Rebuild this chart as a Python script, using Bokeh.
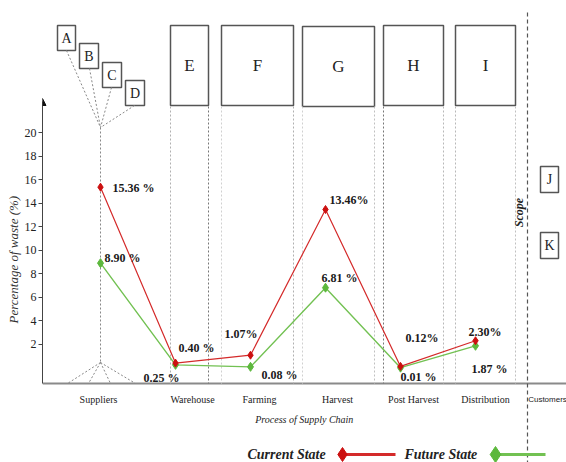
import math
from bokeh.plotting import figure
from bokeh.models import ColumnDataSource, FixedTicker, LinearAxis, Range1d, Arrow, NormalHead, Title
from bokeh.core.properties import value
from bokeh.embed import file_html
from bokeh.resources import INLINE

# ---------------- data ----------------
categories = ["Suppliers", "Warehouse", "Farming", "Harvest", "Post Harvest", "Distribution", "Customers"]
current_state = [15.36, 0.40, 1.07, 13.46, 0.12, 2.30]
future_state = [8.90, 0.25, 0.08, 6.81, 0.01, 1.87]
current_labels = ["15.36 %", "0.40 %", "1.07%", "13.46%", "0.12%", "2.30%"]
future_labels = ["8.90 %", "0.25 %", "0.08 %", "6.81 %", "0.01 %", "1.87 %"]
y_ticks = [2, 4, 6, 8, 10, 12, 14, 16, 18, 20]
stage_letters = ["A", "B", "C", "D", "E", "F", "G", "H", "I", "J", "K"]

# ---------------- layout helpers (canvas pixels -> data units) ----------------
W, H, LEFT = 566, 462, 42
X0, XS = 100.0, 75.0      # canvas x of category 0, pixels per category
Y0, YS = 367.3, 11.76     # canvas y of value 0, pixels per unit


def dx(px):
    return (px - X0) / XS


def dy(py):
    return (Y0 - py) / YS


SERIF = value("Liberation Serif")
RED = "#d42a2a"
RED_M = "#cc1010"
GREEN = "#72c152"
GREEN_M = "#5cb83c"

p = figure(width=W, height=H, output_backend="svg", toolbar_location=None,
           x_range=Range1d(dx(LEFT), dx(W)), y_range=Range1d(dy(H), dy(0)),
           x_axis_type=None, y_axis_type=None,
           min_border_left=LEFT, min_border_right=0, min_border_top=0, min_border_bottom=0)
p.outline_line_color = None
p.background_fill_color = "white"

# ---------------- y axis ----------------
baseline_v = dy(383)
yaxis = LinearAxis(ticker=FixedTicker(ticks=y_ticks), bounds=(baseline_v, dy(101)))
yaxis.axis_line_color = "#444444"
yaxis.axis_line_width = 1
yaxis.major_tick_out = 4
yaxis.major_tick_in = 0
yaxis.major_tick_line_color = "#444444"
yaxis.minor_tick_line_color = None
yaxis.major_label_text_font = "Liberation Serif"
yaxis.major_label_text_font_size = "12px"
yaxis.major_label_text_color = "#222222"
yaxis.major_label_standoff = 2
p.add_layout(yaxis, "left")

ytitle = Title(text="Percentage of waste (%)", align="left", offset=139, standoff=2,
               text_font="Liberation Serif", text_font_style="italic", text_font_size="13px",
               text_color="#333333")
p.add_layout(ytitle, "left")

p.add_layout(Arrow(end=NormalHead(size=7, fill_color="#111111", line_color="#111111"),
                   x_start=dx(42), y_start=dy(106), x_end=dx(42), y_end=dy(98),
                   line_color="#444444", line_width=1))

# baseline (x axis line)
p.segment(x0=[dx(42)], y0=[baseline_v], x1=[dx(566)], y1=[baseline_v],
          line_color="#8a8a8a", line_width=2)

# ---------------- boxes ----------------
boxes = [(57, 75, 25, 50), (79, 98, 43, 68), (102, 121, 62, 87), (125, 144, 80, 105),
         (170, 208, 25, 105), (221, 293, 25, 105), (302, 374, 26, 106), (383, 443, 25, 105),
         (455, 515, 25, 105), (540, 558, 166, 192), (540, 558, 232, 258)]
box_fs = ["14px"] * 4 + ["17px"] * 5 + ["14px"] * 2
p.quad(left=[dx(b[0]) for b in boxes], right=[dx(b[1]) for b in boxes],
       top=[dy(b[2]) for b in boxes], bottom=[dy(b[3]) for b in boxes],
       fill_color="white", line_color="#555555", line_width=1.5)
p.text(x=[dx((b[0] + b[1]) / 2) for b in boxes], y=[dy((b[2] + b[3]) / 2) for b in boxes],
       text=stage_letters, text_font=SERIF, text_font_size=box_fs, text_color="#222222",
       text_align="center", text_baseline="middle")

# dotted guides under boxes E..I
gx, gc = [], []
guide_cols = [("#b0b0b0", "#777777"), ("#d0d0d0", "#b0b0b0"), ("#d0d0d0", "#c0c0c0"),
              ("#777777", "#b8b8b8"), ("#b8b8b8", "#c0c0c0")]
for b, cols in zip(boxes[4:9], guide_cols):
    gx += [b[0], b[1]]
    gc += list(cols)
p.segment(x0=[dx(v) for v in gx], y0=[dy(106)] * len(gx), x1=[dx(v) for v in gx],
          y1=[baseline_v] * len(gx), line_color=gc, line_width=1, line_dash="2 2")

# supplier fan lines
top_apex = (100, 127)
bot_apex = (100, 362)
fan_top = [(66, 50), (89, 68), (111, 87), (134, 105)]
fan_bot = [(67, 383), (88, 383), (110, 383), (135, 383)]
sx0 = [dx(a[0]) for a in fan_top] + [dx(bot_apex[0])] * 4 + [dx(top_apex[0])]
sy0 = [dy(a[1]) for a in fan_top] + [dy(bot_apex[1])] * 4 + [dy(top_apex[1])]
sx1 = [dx(top_apex[0])] * 4 + [dx(a[0]) for a in fan_bot] + [dx(bot_apex[0])]
sy1 = [dy(top_apex[1])] * 4 + [dy(a[1]) for a in fan_bot] + [dy(bot_apex[1])]
p.segment(x0=sx0, y0=sy0, x1=sx1, y1=sy1, line_color="#888888", line_width=1, line_dash="2 2")

# scope line and text
p.segment(x0=[dx(527)], y0=[dy(12)], x1=[dx(527)], y1=[dy(462)],
          line_color="#555555", line_width=1.2, line_dash="4 3")
p.text(x=[dx(525)], y=[dy(212)], text=["Scope"], angle=math.pi / 2, text_font=SERIF,
       text_font_style="bold italic", text_font_size="12px", text_color="#222222",
       text_align="center", text_baseline="bottom")

# ---------------- series ----------------
idx = list(range(len(categories)))
cur = ColumnDataSource(dict(x=idx[:len(current_state)], y=current_state, t=current_labels,
                            xo=[12, 3, -26, 4, 5, -7], yo=[1, -15, -21, -10, -28, -9]))
fut = ColumnDataSource(dict(x=idx[:len(future_state)], y=future_state, t=future_labels,
                            xo=[4, -32, 11, -4, 0, -4], yo=[-5, 13, 8, -10, 9, 23]))

p.line("x", "y", source=fut, line_color=GREEN, line_width=1.4)
p.scatter("x", "y", source=fut, marker="diamond", size=9, fill_color=GREEN_M, line_color=GREEN_M)
p.line("x", "y", source=cur, line_color=RED, line_width=1.2)
p.scatter("x", "y", source=cur, marker="diamond", size=8, fill_color=RED_M, line_color=RED_M)

for src in (cur, fut):
    p.text("x", "y", text="t", source=src, x_offset="xo", y_offset="yo", text_font=SERIF,
           text_font_style="bold", text_font_size="12px", text_color="#1a1a1a",
           text_align="left", text_baseline="middle")

# category labels
cat_xo = [-2, 17, 9, 12, 13, 10, -3]
p.text("x", "y", text="t", source=ColumnDataSource(dict(x=idx[:6], y=[baseline_v] * 6,
                                                          t=categories[:6], xo=cat_xo[:6])),
       x_offset="xo", y_offset=16, text_font=SERIF, text_font_size="10px", text_color="#222222",
       text_align="center", text_baseline="middle")
p.text(x=[idx[6]], y=[baseline_v], text=[categories[6]], x_offset=cat_xo[6], y_offset=16,
       text_font=value("Liberation Sans"), text_font_size="8px", text_color="#222222",
       text_align="center", text_baseline="middle")

# x-axis title
p.text(x=[dx(305)], y=[dy(419)], text=["Process of  Supply Chain"], text_font=SERIF,
       text_font_style="italic", text_font_size="10px", text_color="#222222",
       text_align="center", text_baseline="middle")

# ---------------- legend ----------------
LY = dy(454)
p.text(x=[dx(247), dx(404)], y=[LY, LY], text=["Current State", "Future State"], text_font=SERIF,
       text_font_style="bold italic", text_font_size="14px", text_color="#222222",
       text_align="left", text_baseline="middle")
p.segment(x0=[dx(342), dx(495)], y0=[LY, LY], x1=[dx(395), dx(545)], y1=[LY, LY],
          line_color=[RED, GREEN], line_width=3)
p.scatter(x=[dx(342), dx(495)], y=[LY, LY], marker="diamond", size=[14, 16],
          fill_color=[RED_M, GREEN_M], line_color=[RED_M, GREEN_M])

open("out.html", "w").write(file_html(p, INLINE))
